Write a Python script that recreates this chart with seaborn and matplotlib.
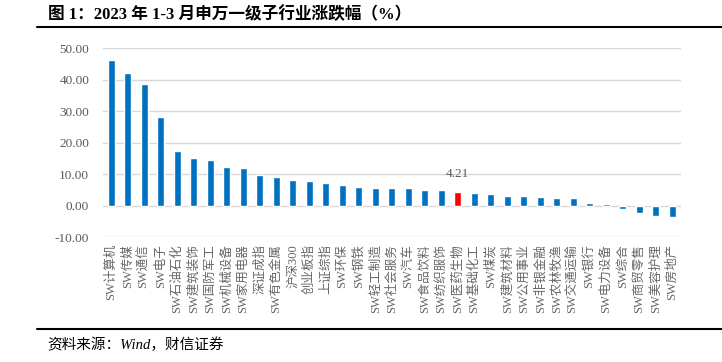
import matplotlib
matplotlib.use("Agg")
import matplotlib.pyplot as plt
import pandas as pd
import seaborn as sns

sns.set_theme(style="white")
plt.rcParams["font.family"] = ["Liberation Serif", "Noto Sans CJK SC"]
plt.rcParams["axes.unicode_minus"] = False

industries = [
    "SW计算机", "SW传媒", "SW通信", "SW电子", "SW石油石化", "SW建筑装饰",
    "SW国防军工", "SW机械设备", "SW家用电器", "深证成指", "SW有色金属",
    "沪深300", "创业板指", "上证综指", "SW环保", "SW钢铁", "SW轻工制造",
    "SW社会服务", "SW汽车", "SW食品饮料", "SW纺织服饰", "SW医药生物",
    "SW基础化工", "SW煤炭", "SW建筑材料", "SW公用事业", "SW非银金融",
    "SW农林牧渔", "SW交通运输", "SW银行", "SW电力设备", "SW综合",
    "SW商贸零售", "SW美容护理", "SW房地产",
]
changes = [
    46.2, 42.0, 38.5, 28.2, 17.5, 15.2, 14.4, 12.2, 11.8, 9.8, 9.0,
    8.2, 7.8, 7.1, 6.4, 5.9, 5.5, 5.5, 5.5, 5.1, 5.1, 4.21,
    4.0, 3.6, 3.2, 2.9, 2.8, 2.3, 2.3, 0.9, 0.4, -1.0,
    -2.4, -3.2, -3.6,
]
highlight = "SW医药生物"

df = pd.DataFrame({"industry": industries, "change": changes})
palette = {name: ("#FF0000" if name == highlight else "#0070C0") for name in industries}

fig = plt.figure(figsize=(7.22, 3.62), dpi=100)
ax = fig.add_axes([0.1427, 0.345, 0.800, 0.522])

sns.barplot(data=df, x="industry", y="change", hue="industry", palette=palette,
            legend=False, width=0.42, ax=ax, saturation=1)

ax.set_ylim(-10, 50)
ax.set_xlim(-0.5, len(industries) - 0.5)
ax.set_yticks(range(-10, 51, 10))
ax.set_yticklabels([f"{v:.2f}" for v in range(-10, 51, 10)], fontsize=9.5, color="#595959")
ax.set_xticks(range(len(industries)))
ax.set_xticklabels(industries, rotation=90, fontsize=9, color="#666666", fontweight="light")
ax.tick_params(axis="both", length=0)
ax.tick_params(axis="x", pad=5)
ax.tick_params(axis="y", pad=10)
ax.set_xlabel("")
ax.set_ylabel("")
for s in ax.spines.values():
    s.set_visible(False)
ax.yaxis.grid(True, color="#D9D9D9", linewidth=1)
ax.set_axisbelow(True)

i = industries.index(highlight)
ax.annotate(f"{changes[i]:.2f}", (i, changes[i]), xytext=(0, 9),
            textcoords="offset points", ha="center", va="bottom",
            fontsize=9.5, color="#595959")

fig.text(0.066, 0.958, "图 1：2023 年 1-3 月申万一级子行业涨跌幅（%）",
         fontsize=12, fontweight="bold", va="center", ha="left", color="#000000")
fig.add_artist(plt.Line2D([0.051, 1.0], [0.925, 0.925], color="black", linewidth=1.5))
fig.add_artist(plt.Line2D([0.051, 1.0], [0.09, 0.09], color="black", linewidth=1.5))
fig.text(0.066, 0.047, "资料来源：Wind，财信证券", fontsize=10.5, style="italic",
         va="center", ha="left", color="#000000")

fig.savefig("out.png", dpi=100)
